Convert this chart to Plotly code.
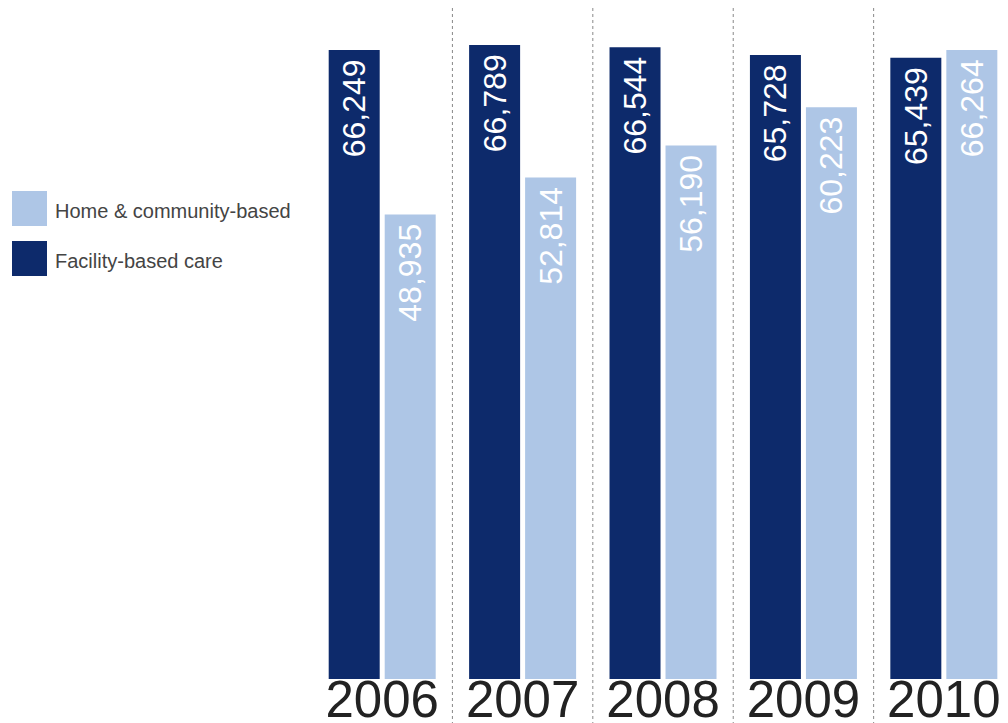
import plotly.graph_objects as go

years = ["2006", "2007", "2008", "2009", "2010"]
facility = [66249, 66789, 66544, 65728, 65439]
home = [48935, 52814, 56190, 60223, 66264]
series_names = ["Facility-based care", "Home & community-based"]
dark = "#0D2A6B"
light = "#AEC6E6"

fig = go.Figure()
for vals, name, col in [(facility, series_names[0], dark), (home, series_names[1], light)]:
    fig.add_trace(go.Bar(x=years, y=vals, name=name,
                         marker=dict(color=col, line=dict(width=0)),
                         text=[f"{v:,}\u2009" for v in vals], textposition="inside",
                         insidetextanchor="end", textangle=-90, cliponaxis=False,
                         textfont=dict(color="white", size=32, family="Liberation Sans")))

shapes = []
for i in range(len(years) - 1):
    shapes.append(dict(type="line", xref="x", yref="paper", x0=i + 0.5, x1=i + 0.5,
                       y0=1 - 8 / 679, y1=-44 / 679,
                       line=dict(color="#888888", width=1, dash="dot")))
# legend swatches (pixel-based placement in paper coords)
W, H = 1008 - 312, 679
def px(x): return (x - 312) / W
def py(y): return (679 - y) / H
annotations = []
for (name, col, top) in [(series_names[1], light, 191), (series_names[0], dark, 241)]:
    shapes.append(dict(type="rect", xref="paper", yref="paper", x0=px(12), x1=px(47),
                       y0=py(top + 35), y1=py(top), fillcolor=col, line=dict(width=0)))
    annotations.append(dict(xref="paper", yref="paper", x=px(53), y=py(top + 20),
                            text=name, showarrow=False, xanchor="left", yanchor="middle",
                            font=dict(size=20, color="#444444", family="Liberation Sans")))

fig.update_layout(
    width=1008, height=723,
    margin=dict(l=312, r=0, t=0, b=44),
    paper_bgcolor="white", plot_bgcolor="white",
    barmode="group", bargap=0.2023, bargroupgap=0.0893,
    showlegend=False,
    shapes=shapes, annotations=annotations,
    xaxis=dict(type="category", range=[-0.5, 4.457], showgrid=False, showline=False,
               zeroline=False, ticks="", ticklabelstandoff=-14, automargin=False,
               tickfont=dict(size=51, color="#222222", family="Liberation Sans")),
    yaxis=dict(range=[0, 71520], visible=False, automargin=False),
)
fig.write_html("out.html")
